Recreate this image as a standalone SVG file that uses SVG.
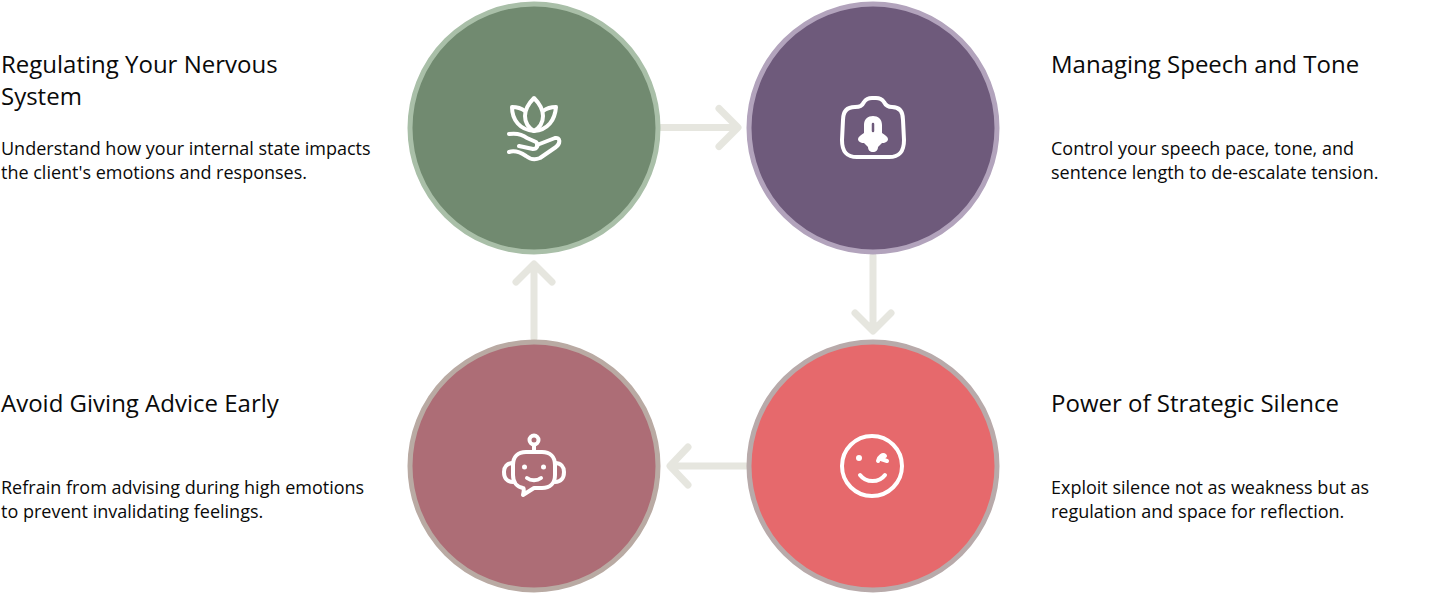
<svg xmlns="http://www.w3.org/2000/svg" width="1432" height="596" viewBox="0 0 1432 596">
<style>
.t{font-family:"Open Sans","DejaVu Sans",sans-serif;font-size:24px;fill:#0a0a0a}
.b{font-family:"Open Sans","DejaVu Sans",sans-serif;font-size:18px;fill:#0a0a0a}
.c{stroke-width:5}
.ic{fill:none;stroke:#fff;stroke-width:4;stroke-linecap:round;stroke-linejoin:round}
.a{fill:none;stroke:#e6e6df;stroke-width:7;stroke-linecap:round;stroke-linejoin:round}
</style>
<rect width="1432" height="596" fill="#fff"/>
<g id="connectors">
<path class="a" d="M661 127.500H736M719 108.500L738 127.500L719 146.500"/>
<path class="a" d="M873 256V330M855 313L873 331L891 313"/>
<path class="a" d="M746 466H671M688 447L670 466L688 485"/>
<path class="a" d="M534 338V265M516 282L534 264L552 282"/>
</g>
<g id="node-regulating">
<circle class="c" cx="534" cy="128" r="124" fill="#718a70" stroke="#a9bfa8"/>
<path class="ic" d="M534 98C529 103 525 109 525 116C525 123 529 128 534 131C539 128 543 123 543 116C543 109 539 103 534 98Z"/>
<path class="ic" d="M525 111C521 108 517 107 512 107C512 120 520 130 534 131C548 130 555 120 556 107C551 107 547 108 543 111"/>
<path class="ic" d="M509 134C516 133 522 134 527 138L536 142C539 145 537 149 533 149L519 146"/>
<path class="ic" d="M509 152C515 150 520 152 526 156C531 160 535 160 540 158L556 147C561 143 560 137 555 138L537 145"/>
</g>
<g id="node-speech">
<circle class="c" cx="873" cy="128" r="124" fill="#6e5a7b" stroke="#b2a3bc"/>
<path class="ic" d="M843 120C843 111 847 107 855 107C860 107 862 106 864 102C866 99 868 98 872 98H876C880 98 882 99 884 102C886 106 888 107 892 107C899 107 903 111 903 120L904 140C904 152 899 157 889 157H857C847 157 842 152 842 140Z"/>
<path d="M864 125C864 119 868 116 873 116C878 116 882 119 882 125V133C885 135 888 137 888 139C888 141 886 143 882 143L878 147C878 150 876 152 873 152C870 152 868 150 868 147L864 143C860 143 858 141 858 139C858 137 861 135 864 133Z" fill="#fff"/>
<path d="M873 124V131" stroke="#6e5a7b" stroke-width="2.500" stroke-linecap="round"/>
</g>
<g id="node-silence">
<circle class="c" cx="873" cy="466" r="124" fill="#e6696c" stroke="#b8aaaa"/>
<circle class="ic" cx="872" cy="466" r="30"/>
<circle cx="859" cy="458" r="3" fill="#fff"/>
<path class="ic" d="M878 461C879 456 883 454 885 456L881 459L887 461" stroke-width="3.500"/>
<path class="ic" d="M860 475C866 483 879 483 885 475"/>
</g>
<g id="node-advice">
<circle class="c" cx="534" cy="466" r="124" fill="#ad6d76" stroke="#b9aaa3"/>
<circle class="ic" cx="534" cy="440" r="4.500" stroke-width="3.500"/>
<path class="ic" d="M534 445V452"/>
<path class="ic" d="M526 452H542C550 452 555 457 555 465V475C555 483 550 488 542 488H534L523 495C524 491 524 488 523 488C517 487 513 482 513 475V465C513 457 518 452 526 452Z"/>
<path class="ic" d="M513 463C507 463 504 467 504 472C504 478 507 482 513 482M555 463C561 463 564 467 564 472C564 478 561 482 555 482"/>
<circle cx="524.500" cy="467" r="2.500" fill="#fff"/>
<circle cx="543.500" cy="467" r="2.500" fill="#fff"/>
<path class="ic" d="M527 478C531 481 537 481 541 478" stroke-width="3.500"/>
</g>
<g id="text-regulating">
<text class="t" x="1" y="73">Regulating Your Nervous</text>
<text class="t" x="1" y="105">System</text>
<text class="b" x="1" y="155">Understand how your internal state impacts</text>
<text class="b" x="1" y="179">the client's emotions and responses.</text>
</g>
<g id="text-speech">
<text class="t" x="1051" y="73">Managing Speech and Tone</text>
<text class="b" x="1051" y="155">Control your speech pace, tone, and</text>
<text class="b" x="1051" y="179">sentence length to de-escalate tension.</text>
</g>
<g id="text-silence">
<text class="t" x="1051" y="412">Power of Strategic Silence</text>
<text class="b" x="1051" y="494">Exploit silence not as weakness but as</text>
<text class="b" x="1051" y="518">regulation and space for reflection.</text>
</g>
<g id="text-advice">
<text class="t" x="1" y="412">Avoid Giving Advice Early</text>
<text class="b" x="1" y="494">Refrain from advising during high emotions</text>
<text class="b" x="1" y="518">to prevent invalidating feelings.</text>
</g>
</svg>
